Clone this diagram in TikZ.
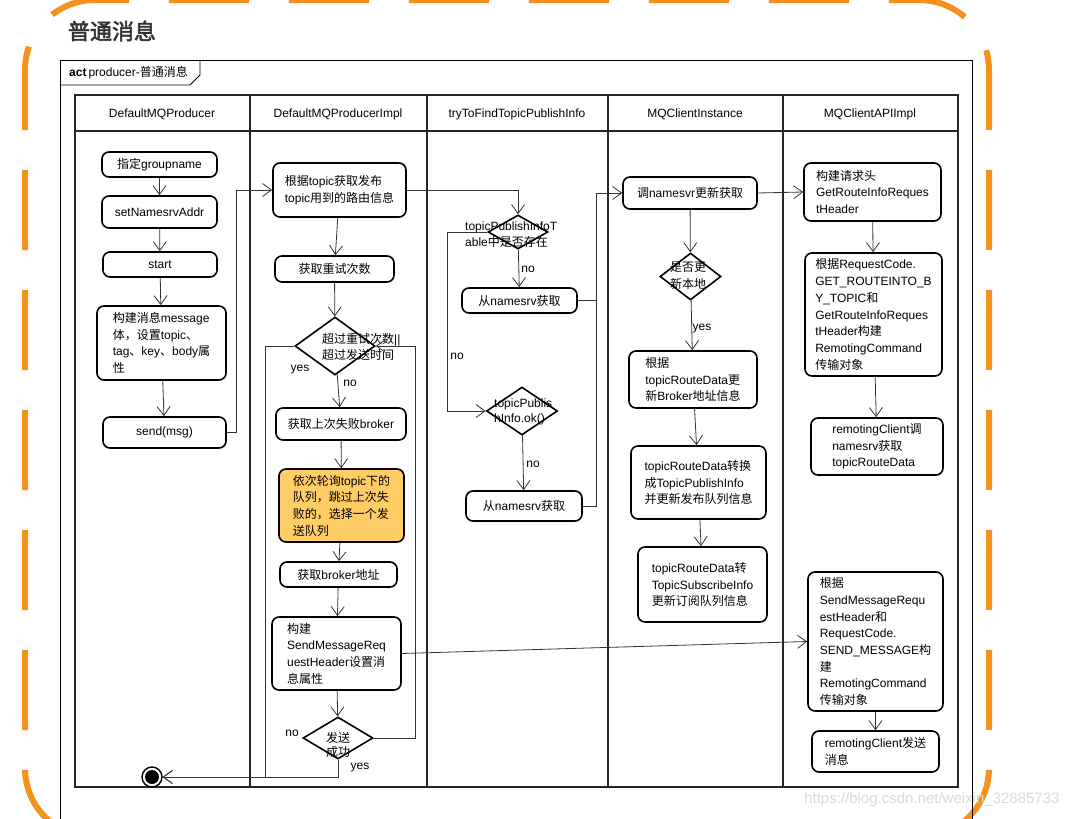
\documentclass[tikz,border=0pt]{standalone}
\usepackage{fontspec}
\setmainfont{Liberation Sans}
\newfontfamily\cjkfont[AutoFakeBold=2.5]{Noto Sans CJK SC}
\usetikzlibrary{arrows.meta,shapes.geometric}

% switch to the CJK font for Chinese characters and back
\XeTeXinterchartokenstate=1
\newXeTeXintercharclass\cjkclass
\newcount\cjkchar
\cjkchar="4E00
\loop \XeTeXcharclass\cjkchar=\cjkclass \ifnum\cjkchar<"9FFF \advance\cjkchar by 1 \repeat
\cjkchar="3000
\loop \XeTeXcharclass\cjkchar=\cjkclass \ifnum\cjkchar<"303F \advance\cjkchar by 1 \repeat
\cjkchar="FF00
\loop \XeTeXcharclass\cjkchar=\cjkclass \ifnum\cjkchar<"FFEF \advance\cjkchar by 1 \repeat
\XeTeXinterchartoks 0 \cjkclass = {\cjkfont}
\XeTeXinterchartoks 4095 \cjkclass = {\cjkfont}
\XeTeXinterchartoks \cjkclass 0 = {\rmfamily}
\XeTeXinterchartoks \cjkclass 4095 = {\rmfamily}

\definecolor{marker orange}{RGB}{245,145,30}
\definecolor{pick fill}{RGB}{255,204,102}
\colorlet{lane edge}{black!85}
\colorlet{flow edge}{black!80}
\tikzset{
  action/.style={draw=black, line width=1.6pt, rounded corners=7pt, inner sep=2pt, align=center},
  actionl/.style={action, align=left},
  decision/.style={diamond, draw=black, line width=1.6pt, inner sep=0pt},
  flow/.style={draw=flow edge, line width=0.8pt, -{Straight Barb[length=9pt,width=13pt]}},
  lane/.style={draw=lane edge, line width=2.2pt}
  }
\tikzstyle{tag}=[inner sep=1pt]
\tikzstyle{dtext}=[align=left, anchor=west, inner sep=0pt]
\tikzstyle{final}=[circle, draw=black, line width=1.4pt, minimum size=20pt, inner sep=0pt,
  path picture={\fill (path picture bounding box.center) circle (7pt);}]

\begin{document}
\begin{tikzpicture}[x=1pt, y=-1pt, font=\fontsize{12}{16.7}\selectfont]
  \useasboundingbox (0,0) rectangle (1071,819);
  \clip (0,0) rectangle (1071,819);

  % hand-drawn marker frame
  \draw[marker orange, line width=6pt, rounded corners=70pt, dash pattern=on 80pt off 40pt, dash phase=20pt]
    (25,0) rectangle (989,838);
  \node[text=black!80, font=\bfseries\fontsize{22}{26}\selectfont] (title) at (112,31) {普通消息};

  % activity frame
  \draw[line width=0.8pt] (60,60) rectangle (972,840);
  \draw[line width=0.8pt] (60,85) -- (190,85) -- (200,75) -- (200,60);
  \node[anchor=west, inner sep=0pt] (frametag) at (69,73) {\textbf{act}\,producer-普通消息};

  % swimlanes
  \draw[lane] (75,95) rectangle (958,787);
  \draw[lane] (75,131) -- (958,131);
  \foreach \x in {250,427,608,783} {
    \draw[lane] (\x,95) -- (\x,787);
  }
  \foreach \x/\name/\txt in {162/hprod/DefaultMQProducer, 338/himpl/DefaultMQProducerImpl,
      517/hfind/tryToFindTopicPublishInfo, 695/hinst/MQClientInstance, 870/hapi/MQClientAPIImpl} {
    \node (\name) at (\x,114) {\txt};
  }

  % DefaultMQProducer
  \node[action, minimum width=115, minimum height=25] (grp) at (159.5,164.5) {指定groupname};
  \node[action, minimum width=115, minimum height=32] (nsaddr) at (159.5,212) {setNamesrvAddr};
  \node[action, minimum width=114, minimum height=25] (start) at (160,264.5) {start};
  \node[actionl, minimum width=129, minimum height=74] (msg) at (161.5,343)
    {构建消息message\\体，设置topic、\\tag、key、body属\\性};
  \node[action, minimum width=123, minimum height=31] (send) at (164.5,432.5) {send(msg)};
  \node[final] (finish) at (152,777) {};

  % DefaultMQProducerImpl
  \node[actionl, minimum width=133, minimum height=54] (route) at (339.5,190)
    {根据topic获取发布\\topic用到的路由信息};
  \node[action, minimum width=119, minimum height=26] (retrycount) at (334.5,269) {获取重试次数};
  \node[decision, minimum width=80, minimum height=58] (retry) at (335,346) {};
  \node[dtext] (retrytxt) at (322,347) {超过重试次数||\\超过发送时间};
  \node[action, minimum width=130, minimum height=32] (lastfail) at (341,424) {获取上次失败broker};
  \node[actionl, fill=pick fill, minimum width=125, minimum height=73] (pick) at (341.5,505.5)
    {依次轮询topic下的\\队列，跳过上次失\\败的，选择一个发\\送队列};
  \node[action, minimum width=117, minimum height=25] (addr) at (338.5,574.5) {获取broker地址};
  \node[actionl, minimum width=129, minimum height=73] (build) at (336.5,653.5)
    {构建\\SendMessageReq\\uestHeader设置消\\息属性};
  \node[decision, minimum width=70, minimum height=42] (sendok) at (338,738) {};
  \node[dtext, font=\fontsize{12}{14}\selectfont] (sendoktxt) at (326,745) {发送\\成功};

  % tryToFindTopicPublishInfo
  \node[decision, minimum width=60, minimum height=34] (ptable) at (518,232) {};
  \node[dtext] (ptabletxt) at (465,234.5) {topicPublishInfoT\\able中是否存在};
  \node[action, minimum width=115, minimum height=25] (fetcha) at (519.5,300.5) {从namesrv获取};
  \node[decision, minimum width=71, minimum height=48] (pok) at (522,411) {};
  \node[dtext, font=\fontsize{12}{15}\selectfont] (poktxt) at (494,411.5) {topicPublis\\hInfo.ok()};
  \node[action, minimum width=116, minimum height=30] (fetchb) at (524,506) {从namesrv获取};

  % MQClientInstance
  \node[action, minimum width=134, minimum height=32] (call) at (690,193) {调namesvr更新获取};
  \node[decision, minimum width=61, minimum height=47] (updlocal) at (690.5,276.5) {};
  \node[dtext] (updlocaltxt) at (670,275.5) {是否更\\新本地};
  \node[actionl, minimum width=128, minimum height=57] (brokerinfo) at (693,379.5)
    {根据\\topicRouteData更\\新Broker地址信息};
  \node[actionl, minimum width=135, minimum height=73] (pubinfo) at (698.5,482.5)
    {topicRouteData转换\\成TopicPublishInfo\\并更新发布队列信息};
  \node[actionl, minimum width=129, minimum height=75] (subinfo) at (702.5,584.5)
    {topicRouteData转\\TopicSubscribeInfo\\更新订阅队列信息};

  % MQClientAPIImpl
  \node[actionl, minimum width=137, minimum height=58] (apiroute) at (872.5,192)
    {构建请求头\\GetRouteInfoReques\\tHeader};
  \node[actionl, minimum width=137, minimum height=123] (apicmd) at (873.5,314.5)
    {根据RequestCode.\\GET\_ROUTEINTO\_B\\Y\_TOPIC和\\GetRouteInfoReques\\tHeader构建\\RemotingCommand\\传输对象};
  \node[actionl, minimum width=132, minimum height=57] (apiget) at (877,446.5)
    {remotingClient调\\namesrv获取\\topicRouteData};
  \node[actionl, minimum width=135, minimum height=139] (apisend) at (875.5,641.5)
    {根据\\SendMessageRequ\\estHeader和\\RequestCode.\\SEND\_MESSAGE构\\建\\RemotingCommand\\传输对象};
  \node[actionl, minimum width=127, minimum height=41] (apiclient) at (875.5,751.5)
    {remotingClient发送\\消息};

  % connectors
  \draw[flow] (grp) -- (nsaddr);
  \draw[flow] (nsaddr) -- (start);
  \draw[flow] (start) -- (msg);
  \draw[flow] (msg) -- (send);
  \draw[flow] (send.east) -- ++(10,0) |- (route.west);

  \draw[flow] (route) -- (retrycount);
  \draw[flow] (retrycount) -- (retry);
  \draw[flow] (retry) -- (lastfail);
  \draw[flow] (lastfail) -- (pick);
  \draw[flow] (pick) -- (addr);
  \draw[flow] (addr) -- (build);
  \draw[flow] (build) -- (sendok);
  \draw[flow] (sendok.east) -- ++(42,0) |- (retry.east);
  \draw[flow] (retry.west) -- ++(-29,0) |- (finish.east);
  \draw[flow] (sendok.south) |- (finish.east);
  \draw[flow] (build.east) -- (apisend.west);

  \draw[flow] (route.east) -| (ptable.north);
  \draw[flow] (ptable) -- (fetcha);
  \draw[flow] (ptable.west) -- ++(-40,0) |- (pok.west);
  \draw[flow] (pok) -- (fetchb);
  \coordinate (joinc) at (596,193);
  \draw[flow] (fetcha.east) -| (joinc) -- (call.west);
  \draw[flow, -] (fetchb.east) -| (joinc);

  \draw[flow] (call) -- (updlocal);
  \draw[flow] (updlocal) -- (brokerinfo);
  \draw[flow] (brokerinfo) -- (pubinfo);
  \draw[flow] (pubinfo) -- (subinfo);
  \draw[flow] (call.east) -- (apiroute.west);

  \draw[flow] (apiroute) -- (apicmd);
  \draw[flow] (apicmd) -- (apiget);
  \draw[flow] (apisend) -- (apiclient);

  % guard labels
  \node[tag] (retryyes) at (300,370) {yes};
  \node[tag] (retryno) at (350,383) {no};
  \node[tag] (sendokno) at (292,733) {no};
  \node[tag] (sendokyes) at (360,768) {yes};
  \node[tag] (ptableno) at (528,269) {no};
  \node[tag] (ptableloop) at (457,356) {no};
  \node[tag] (pokno) at (533,464) {no};
  \node[tag] (updlocalyes) at (702,329) {yes};

  \node[anchor=east, text=black!15, font=\fontsize{15}{18}\selectfont] (mark) at (1063,800)
    {https://blog.csdn.net/weixin\_32885733};
\end{tikzpicture}
\end{document}
